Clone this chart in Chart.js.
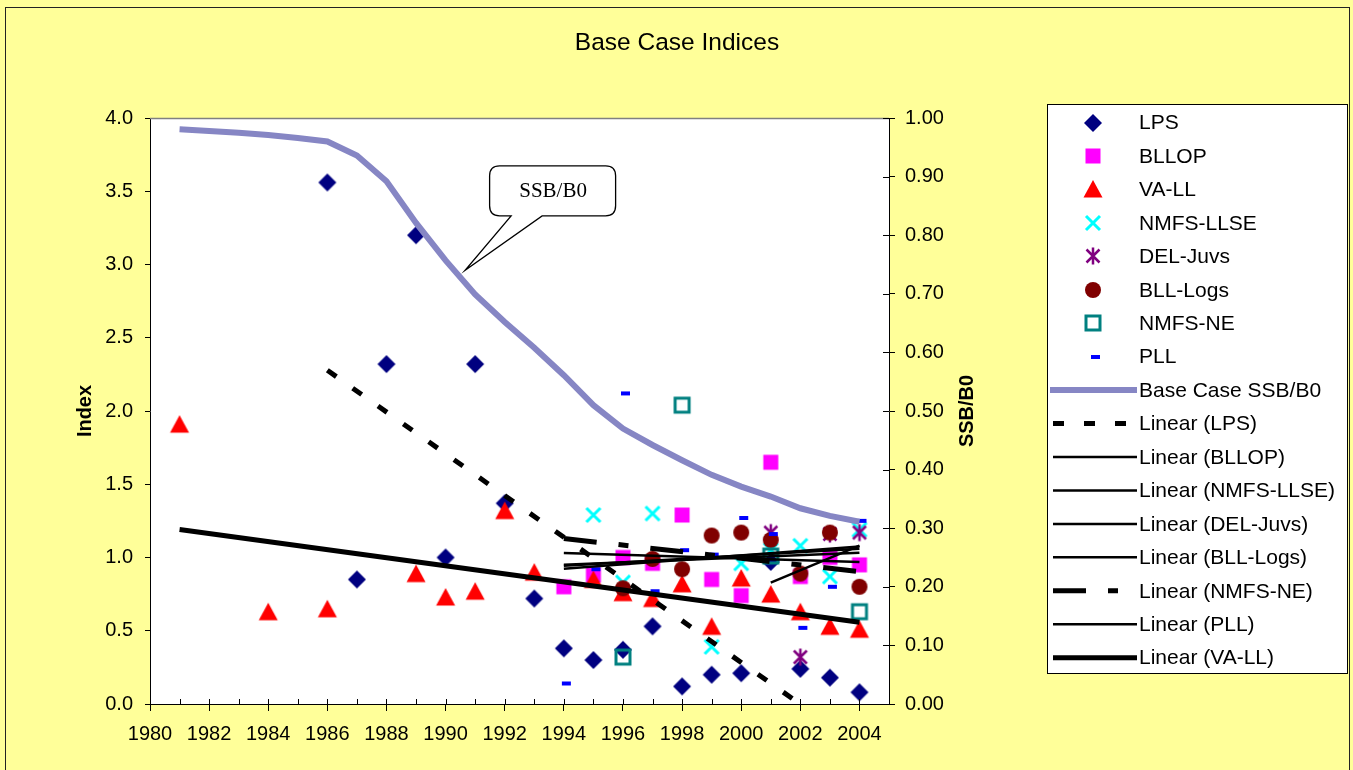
<!DOCTYPE html>
<html><head><meta charset="utf-8">
<script src="https://cdn.jsdelivr.net/npm/chart.js@4.4.1/dist/chart.umd.min.js"></script>
<style>html,body{margin:0;padding:0;background:#fff}#wrap{width:1353px;height:770px;position:relative}</style>
</head><body><div id="wrap"><canvas id="c" width="1353" height="770"></canvas></div>
<script>
// ---------------- data ----------------
const ssbYears = [1981,1982,1983,1984,1985,1986,1987,1988,1989,1990,1991,1992,1993,1994,1995,1996,1997,1998,1999,2000,2001,2002,2003,2004];
const ssbB0    = [0.981,0.978,0.975,0.971,0.966,0.960,0.936,0.892,0.821,0.757,0.699,0.652,0.608,0.561,0.510,0.470,0.442,0.416,0.391,0.371,0.354,0.334,0.321,0.311];

const lpsYears = [1986,1987,1988,1989,1990,1991,1992,1993,1994,1995,1996,1997,1998,1999,2000,2001,2002,2003,2004];
const lps      = [3.56,0.85,2.32,3.20,1.00,2.32,1.37,0.72,0.38,0.30,0.37,0.53,0.12,0.20,0.21,0.97,0.24,0.18,0.08];

const vaYears  = [1981,1982,1983,1984,1985,1986,1987,1988,1989,1990,1991,1992,1993,1994,1995,1996,1997,1998,1999,2000,2001,2002,2003,2004];
const vaLL     = [1.91,null,null,0.63,null,0.65,null,null,0.89,0.73,0.77,1.32,0.90,null,0.85,0.76,0.72,0.82,0.53,0.86,0.75,0.63,0.53,0.51];

const recentYears = [1994,1995,1996,1997,1998,1999,2000,2001,2002,2003,2004];
const bllop    = [0.80,0.88,1.00,0.96,1.29,0.85,0.74,1.65,0.87,1.00,0.95];
const nmfsLLSE = [null,1.29,0.83,1.30,null,0.39,0.96,1.05,1.08,0.87,1.19];
const bllLogs  = [null,null,0.79,0.99,0.92,1.15,1.17,1.12,0.89,1.17,0.80];
const nmfsNE   = [null,null,0.32,null,2.04,null,null,1.01,null,null,0.63];
const pll      = [0.14,0.92,2.12,0.77,1.05,1.02,1.27,1.16,0.52,0.80,1.25];

const delYears = [2001,2002,2003,2004];
const delJuvs  = [1.17,0.32,1.16,1.17];

// ---------------- helpers ----------------
function pts(xs, ys){ return xs.map((x,i)=>({x:x,y:ys[i]})).filter(p=>p.y!==null); }
function trend(xs, ys){
  const p = pts(xs, ys); const n = p.length;
  const mx = p.reduce((s,q)=>s+q.x,0)/n, my = p.reduce((s,q)=>s+q.y,0)/n;
  let sxy=0, sxx=0; p.forEach(q=>{ sxy+=(q.x-mx)*(q.y-my); sxx+=(q.x-mx)*(q.x-mx); });
  const b = sxy/sxx, a = my - b*mx;
  const x0 = xs[0], x1 = xs[xs.length-1];
  return [{x:x0,y:a+b*x0},{x:x1,y:a+b*x1}];
}
function marker(kind, color){
  const s = 26, c = document.createElement('canvas'); c.width = s; c.height = s;
  const g = c.getContext('2d'); const m = s/2;
  g.fillStyle = color; g.strokeStyle = color; g.lineCap = 'butt';
  g.beginPath();
  switch(kind){
    case 'diamond': g.moveTo(m,m-9); g.lineTo(m+9,m); g.lineTo(m,m+9); g.lineTo(m-9,m); g.closePath(); g.fill(); break;
    case 'square': g.fillRect(m-7.5,m-7.5,15,15); break;
    case 'triangle': g.moveTo(m,m-9); g.lineTo(m+9.5,m+8.5); g.lineTo(m-9.5,m+8.5); g.closePath(); g.fill(); break;
    case 'x': g.lineWidth = 3; g.moveTo(m-7,m-7); g.lineTo(m+7,m+7); g.moveTo(m+7,m-7); g.lineTo(m-7,m+7); g.stroke(); break;
    case 'asterisk': g.lineWidth = 2.5; g.moveTo(m-6.5,m-6.5); g.lineTo(m+6.5,m+6.5); g.moveTo(m+6.5,m-6.5); g.lineTo(m-6.5,m+6.5); g.moveTo(m,m-8.5); g.lineTo(m,m+8.5); g.stroke(); break;
    case 'circle': g.arc(m,m,8,0,Math.PI*2); g.fill(); break;
    case 'openSquare': g.lineWidth = 3; g.strokeRect(m-7,m-7,14,14); break;
    case 'dash': g.fillRect(m-2,m-2,9,4); break;
  }
  return c;
}
function scatterDS(label, data, kind, color, order){
  const img = marker(kind, color);
  return {type:'scatter', label, data, pointStyle: img, pointRadius: 8, pointHoverRadius: 8,
          borderColor: color, backgroundColor: color, showLine:false, order, yAxisID:'y', _leg:{marker:img}};
}
function trendDS(label, data, width, dash, order){
  return {type:'line', label, data, borderColor:'#000', borderWidth: width, borderDash: dash,
          pointRadius:0, pointHoverRadius:0, fill:false, tension:0, order, yAxisID:'y', clip:0,
          _leg:{line:true, width, dash}};
}
const SSB_COLOR = '#8686C4';
const datasets = [
  scatterDS('LPS', pts(lpsYears,lps), 'diamond', '#000080', 10),
  scatterDS('BLLOP', pts(recentYears,bllop), 'square', '#FF00FF', 9),
  scatterDS('VA-LL', pts(vaYears,vaLL), 'triangle', '#FF0000', 8),
  scatterDS('NMFS-LLSE', pts(recentYears,nmfsLLSE), 'x', '#00FFFF', 7),
  scatterDS('DEL-Juvs', pts(delYears,delJuvs), 'asterisk', '#800080', 6),
  scatterDS('BLL-Logs', pts(recentYears,bllLogs), 'circle', '#800000', 5),
  scatterDS('NMFS-NE', pts(recentYears,nmfsNE), 'openSquare', '#008080', 4),
  scatterDS('PLL', pts(recentYears,pll), 'dash', '#0000FF', 3),
  {type:'line', label:'Base Case SSB/B0', data: pts(ssbYears, ssbB0), yAxisID:'y1', borderColor: SSB_COLOR,
   borderWidth:6, pointRadius:0, pointHoverRadius:0, tension:0, fill:false, order:2, _leg:{line:true,width:6,dash:[],color:SSB_COLOR}},
  trendDS('Linear (LPS)', trend(lpsYears,lps), 5, [11,20], 1),
  trendDS('Linear (BLLOP)', trend(recentYears,bllop), 2.5, [], 1),
  trendDS('Linear (NMFS-LLSE)', trend(recentYears,nmfsLLSE), 2.5, [], 1),
  trendDS('Linear (DEL-Juvs)', trend(delYears,delJuvs), 2.5, [], 1),
  trendDS('Linear (BLL-Logs)', trend(recentYears,bllLogs), 2.5, [], 1),
  trendDS('Linear (NMFS-NE)', trend(recentYears,nmfsNE), 5, [33,22,10,22], 1),
  trendDS('Linear (PLL)', trend(recentYears,pll), 2.5, [], 1),
  trendDS('Linear (VA-LL)', trend(vaYears,vaLL), 5, [], 1)
];

const FONT = "'Liberation Sans', Arial, sans-serif";
Chart.defaults.font.family = FONT;
Chart.defaults.color = '#000';

const deco = {
  id:'deco',
  beforeDraw(chart){
    const ctx = chart.ctx, a = chart.chartArea;
    ctx.save();
    ctx.fillStyle = '#FFFF99'; ctx.fillRect(0,0,chart.width,chart.height);
    ctx.strokeStyle = '#222'; ctx.lineWidth = 1; ctx.strokeRect(5.5,7.5,1344,800);
    ctx.fillStyle = '#FFFFFF'; ctx.fillRect(a.left,a.top,a.right-a.left,a.bottom-a.top);
    ctx.restore();
  },
  afterDraw(chart){
    const ctx = chart.ctx, a = chart.chartArea, sx = chart.scales.x, sy = chart.scales.y, sy1 = chart.scales.y1;
    ctx.save();
    // top border of plot area
    ctx.strokeStyle = '#808080'; ctx.lineWidth = 1.5;
    ctx.beginPath(); ctx.moveTo(a.left, a.top+0.5); ctx.lineTo(a.right, a.top+0.5); ctx.stroke();
    // inward tick marks
    ctx.strokeStyle = '#000'; ctx.lineWidth = 1;
    ctx.beginPath();
    for(let yr=1980; yr<2005; yr++){
      const px = Math.round(sx.getPixelForValue(yr))+0.5;
      ctx.moveTo(px, a.bottom); ctx.lineTo(px, a.bottom-5);
    }
    sy1.ticks.forEach(t=>{
      const py = Math.round(sy1.getPixelForValue(t.value))+0.5;
      ctx.moveTo(a.right, py); ctx.lineTo(a.right-6, py);
    });
    ctx.stroke();
    // title
    ctx.fillStyle = '#000'; ctx.textAlign = 'center'; ctx.textBaseline = 'middle';
    ctx.font = '24.5px ' + FONT;
    ctx.fillText('Base Case Indices', 677, 43);
    // axis titles
    ctx.font = 'bold 20px ' + FONT;
    ctx.save(); ctx.translate(85, (a.top+a.bottom)/2); ctx.rotate(-Math.PI/2); ctx.fillText('Index',0,0); ctx.restore();
    ctx.save(); ctx.translate(967, (a.top+a.bottom)/2); ctx.rotate(-Math.PI/2); ctx.fillText('SSB/B0',0,0); ctx.restore();
    // callout anchored at a point on the SSB curve
    const tx = sx.getPixelForValue(1990.66), ty = sy1.getPixelForValue(0.74);
    const bl = tx+24.5, bt = ty-104.5, bw = 126, bh = 50, r = 10;
    const p1 = tx+46, p2 = tx+77;
    ctx.beginPath();
    ctx.moveTo(bl+r, bt); ctx.lineTo(bl+bw-r, bt); ctx.quadraticCurveTo(bl+bw, bt, bl+bw, bt+r);
    ctx.lineTo(bl+bw, bt+bh-r); ctx.quadraticCurveTo(bl+bw, bt+bh, bl+bw-r, bt+bh);
    ctx.lineTo(p2, bt+bh); ctx.lineTo(tx, ty); ctx.lineTo(p1, bt+bh);
    ctx.lineTo(bl+r, bt+bh); ctx.quadraticCurveTo(bl, bt+bh, bl, bt+bh-r);
    ctx.lineTo(bl, bt+r); ctx.quadraticCurveTo(bl, bt, bl+r, bt); ctx.closePath();
    ctx.fillStyle = '#fff'; ctx.fill(); ctx.strokeStyle = '#000'; ctx.lineWidth = 1.3; ctx.stroke();
    ctx.fillStyle = '#000'; ctx.font = "21px 'Liberation Serif', 'Times New Roman', serif";
    ctx.fillText('SSB/B0', bl+bw/2+0.5, bt+26);
    // legend
    const lx = 1047.5, ly = 104.5, lw = 300, lh = 569;
    ctx.fillStyle = '#fff'; ctx.fillRect(lx, ly, lw, lh);
    ctx.strokeStyle = '#000'; ctx.lineWidth = 1; ctx.strokeRect(lx, ly, lw, lh);
    ctx.font = '21px ' + FONT; ctx.textAlign = 'left'; ctx.textBaseline = 'middle';
    chart.data.datasets.forEach((ds, i)=>{
      const yy = 122.5 + i*33.45;
      const L = ds._leg;
      if (L.marker){
        ctx.drawImage(L.marker, 1093-L.marker.width/2, Math.round(yy)-L.marker.height/2);
      } else {
        ctx.save();
        ctx.strokeStyle = L.color || '#000'; ctx.lineWidth = L.width; ctx.setLineDash(L.dash);
        ctx.beginPath(); ctx.moveTo(L.color ? 1050 : 1053, yy); ctx.lineTo(1137, yy); ctx.stroke();
        ctx.restore();
      }
      ctx.fillStyle = '#000';
      ctx.fillText(ds.label, 1139, yy+1);
    });
    ctx.restore();
  }
};

new Chart(document.getElementById('c'), {
  type:'scatter',
  data:{datasets},
  options:{
    responsive:false, animation:false, devicePixelRatio:1,
    layout:{padding:{top:118,left:0,right:0,bottom:0}},
    plugins:{legend:{display:false}, title:{display:false}, tooltip:{enabled:false}},
    scales:{
      x:{type:'linear', position:'bottom', min:1980, max:2005,
         ticks:{stepSize:2, includeBounds:false, font:{size:20}, color:'#000', padding:11, maxRotation:0, autoSkip:false,
                callback:(v)=>String(v)},
         grid:{display:true, drawOnChartArea:false, drawTicks:true, tickLength:7, tickColor:'#000'},
         border:{display:true, color:'#000', width:1},
         afterFit:(s)=>{ s.height = 66; }},
      y:{type:'linear', position:'left', min:0, max:4,
         ticks:{stepSize:0.5, font:{size:20}, color:'#000', padding:12, callback:(v)=>Number(v).toFixed(1)},
         grid:{display:true, drawOnChartArea:false, drawTicks:true, tickLength:5, tickColor:'#000'},
         border:{display:true, color:'#000', width:1},
         afterFit:(s)=>{ s.width = 150; }},
      y1:{type:'linear', position:'right', min:0, max:1,
         ticks:{stepSize:0.1, font:{size:20}, color:'#000', padding:10, callback:(v)=>Number(v).toFixed(2)},
         grid:{display:true, drawOnChartArea:false, drawTicks:true, tickLength:6, tickColor:'#000'},
         border:{display:true, color:'#000', width:1},
         afterFit:(s)=>{ s.width = 464; }}
    }
  },
  plugins:[deco]
});
</script></body></html>
